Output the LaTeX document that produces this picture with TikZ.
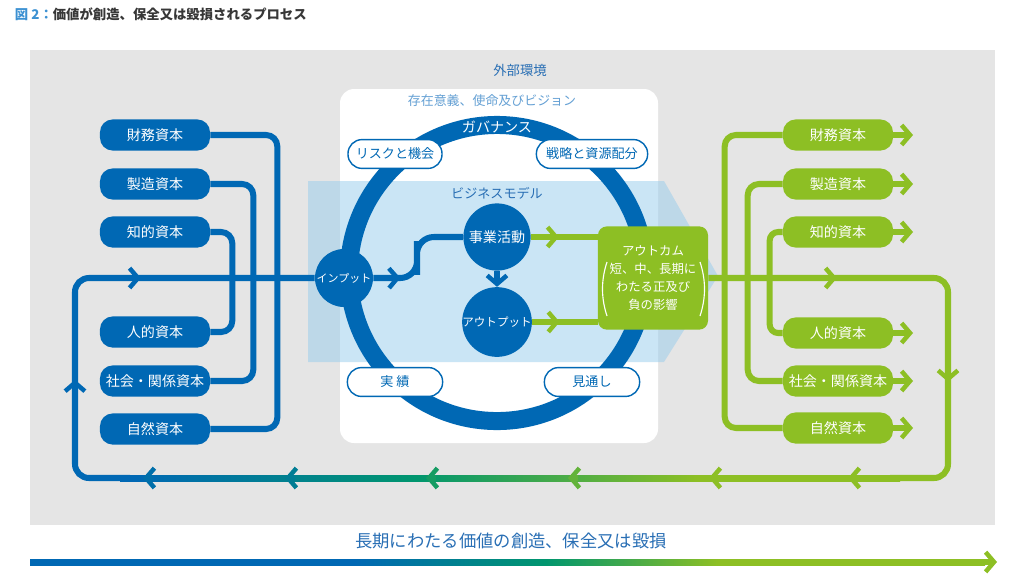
\documentclass[tikz,border=0pt]{standalone}
\usepackage{fontspec}
\setmainfont{Noto Sans CJK JP}
\usetikzlibrary{arrows.meta,decorations.markings,positioning}

\definecolor{capblue}{RGB}{0,104,180}
\definecolor{capgreen}{RGB}{141,191,36}
\definecolor{flowteal}{RGB}{0,150,110}
\definecolor{envgray}{RGB}{229,229,229}
\definecolor{bandblue}{RGB}{150,204,236}
\definecolor{labelblue}{RGB}{40,110,180}
\definecolor{paleblue}{RGB}{100,160,212}
\definecolor{titleblue}{RGB}{60,145,210}
\definecolor{titlegray}{RGB}{55,55,55}

\pgfdeclarehorizontalshading{loopflow}{100bp}{color(0bp)=(capblue); color(26bp)=(capblue); color(44bp)=(flowteal); color(62bp)=(capgreen); color(100bp)=(capgreen)}
\pgfdeclarehorizontalshading{timeflow}{100bp}{color(0bp)=(capblue); color(42bp)=(capblue); color(52bp)=(flowteal); color(61bp)=(capgreen); color(100bp)=(capgreen)}

\tikzset{chev/.tip={Straight Barb[length=6pt,width=14pt,line width=3.2pt]}}

\begin{document}
\begin{tikzpicture}[x=0.025cm, y=-0.025cm,
    bline/.style={capblue, line width=4.3pt},
    gline/.style={capgreen, line width=4.3pt},
    chevat/.style={postaction={decorate, decoration={markings, mark=at position #1 with {\arrow{chev}}}}},
    capin/.style={fill=capblue, text=white, rounded corners=0.32cm, minimum width=2.75cm, minimum height=0.78cm, inner sep=0pt, font=\fontsize{10}{12}\selectfont},
    capout/.style={capin, fill=capgreen},
    ringpill/.style={draw=capblue, line width=1pt, fill=white, text=capblue, rounded corners=0.35cm, minimum height=0.72cm, inner sep=0pt, font=\fontsize{9.3}{11}\selectfont},
    hub/.style={circle, fill=capblue, text=white, inner sep=0pt, minimum size=1.68cm}]
  \useasboundingbox (0,0) rectangle (1024,586);

  % Title
  \node[anchor=west, font=\fontsize{9.5}{11}\selectfont\bfseries] (title) at (10,14)
    {\textcolor{titleblue}{図 2：}\textcolor{titlegray}{価値が創造、保全又は毀損されるプロセス}};

  % External environment
  \fill[envgray] (30,50) rectangle (995,525);
  \node[text=labelblue, font=\fontsize{9.5}{11}\selectfont] (env_label) at (520,70) {外部環境};

  % Purpose, mission and vision
  \fill[white, rounded corners=0.35cm] (340,89) rectangle (658,443);
  \node[text=paleblue, font=\fontsize{9.2}{11}\selectfont] (purpose_label) at (492,101) {存在意義、使命及びビジョン};

  % Business model band
  \fill[bandblue, opacity=0.5] (308,181) -- (664,181) -- (718,276) -- (664,362) -- (308,362) -- cycle;
  \node[text=labelblue, font=\fontsize{9.3}{11}\selectfont] (model_label) at (497,193) {ビジネスモデル};

  % Governance ring
  \draw[capblue, line width=12.8pt] (497,273) circle[radius=3.7cm];
  \node[text=white, font=\fontsize{10}{12}\selectfont] (gov_label) at (497,127) {ガバナンス};

  \node[ringpill, minimum width=2.35cm] (risk) at (395,154) {リスクと機会};
  \node[ringpill, minimum width=2.78cm] (strategy) at (592,154) {戦略と資源配分};
  \node[ringpill, minimum width=2.38cm] (record) at (395,382) {実 績};
  \node[ringpill, minimum width=2.38cm] (outlook) at (592,382) {見通し};

  % Hubs
  \node[hub, minimum size=1.45cm, font=\fontsize{7.8}{9}\selectfont] (input) at (344,278) {インプット};
  \node[hub, font=\fontsize{10}{12}\selectfont] (jigyo) at (497,237) {事業活動};
  \node[hub, font=\fontsize{8.2}{10}\selectfont] (output) at (497,322) {アウトプット};

  % Outcome
  \node[fill=capgreen, text=white, rounded corners=0.22cm, minimum width=2.75cm, minimum height=2.58cm,
        align=center, font=\fontsize{8.8}{12.8}\selectfont] (outcome) at (653,278)
    {アウトカム\\短、中、長期に\\わたる正及び\\負の影響};
  \draw[white, line width=0.8pt] (607,262) .. controls (601,280) and (601,298) .. (607,316);
  \draw[white, line width=0.8pt] (700,262) .. controls (706,280) and (706,298) .. (700,316);

  % Capitals in
  \node[capin] (fin_in) at (155,135) {財務資本};
  \node[capin] (manu_in) at (155,184) {製造資本};
  \node[capin] (intel_in) at (155,232) {知的資本};
  \node[capin] (human_in) at (155,332) {人的資本};
  \node[capin] (social_in) at (155,381) {社会・関係資本};
  \node[capin] (nat_in) at (155,429) {自然資本};

  \draw[bline, rounded corners=8pt] (fin_in.east) -- ++(67,0) |- (nat_in.east);
  \draw[bline, rounded corners=8pt] (manu_in.east) -- ++(43,0) |- (social_in.east);
  \draw[bline, rounded corners=8pt] (intel_in.east) -- ++(22,0) |- (human_in.east);

  % Capitals out
  \node[capout] (fin_out) at (838,135) {財務資本};
  \node[capout] (manu_out) at (838,184) {製造資本};
  \node[capout] (intel_out) at (838,232) {知的資本};
  \node[capout] (human_out) at (838,333) {人的資本};
  \node[capout] (social_out) at (838,381) {社会・関係資本};
  \node[capout] (nat_out) at (838,428) {自然資本};

  \draw[gline, rounded corners=8pt] (fin_out.west) -- ++(-58,0) |- (nat_out.west);
  \draw[gline, rounded corners=8pt] (manu_out.west) -- ++(-35,0) |- (social_out.west);
  \draw[gline, rounded corners=6pt] (intel_out.west) -- ++(-13,0) |- (human_out.west);

  \coordinate (out_tips) at (913,0);
  \foreach \capname in {fin,manu,intel,human,social,nat}
    \draw[gline, -{chev}] (\capname_out.east) -- (\capname_out.east -| out_tips);

  % Flow through the business model
  \draw[bline, rounded corners=12pt, chevat=0.16] (input.east) -| (417,258) |- (jigyo.west);
  \draw[bline, -{chev}] (jigyo) -- (output);
  \draw[gline, chevat=0.42] (jigyo.east) -- (jigyo.east -| outcome.west);
  \draw[gline, chevat=0.42] (output.east) -- (output.east -| outcome.west);

  % Value loop
  \coordinate (loop_r) at (948,478);
  \coordinate (loop_br) at (890,478);
  \coordinate (loop_bl) at (130,478);
  \coordinate (loop_l) at (75,278);
  \draw[gline, rounded corners=10pt, chevat=0.265, chevat=0.695] (outcome.east) -| (loop_r) -- (loop_br);
  \draw[bline, rounded corners=10pt, chevat=0.305, chevat=0.64] (loop_bl) -| (loop_l) -- (input.west);
  \shade[shading=loopflow] (120,475) rectangle (900,481);
  \foreach \x/\tone in {143/capblue!85!flowteal, 285/capblue!55!flowteal, 426/flowteal!85!capgreen,
                        568/capgreen!70!flowteal, 709/capgreen, 848/capgreen}
    \draw[\tone, line width=4.3pt, -{chev}] (\x+10,478) -- (\x,478);

  % Time line
  \node[text=labelblue, font=\fontsize{12.3}{14}\selectfont] (time_label) at (511,541) {長期にわたる価値の創造、保全又は毀損};
  \coordinate (time_end) at (997,562);
  \shade[shading=timeflow] (30,559) rectangle (985,565);
  \draw[capgreen, line width=4.3pt, -{chev}] ([xshift=-0.4cm]time_end) -- (time_end);
\end{tikzpicture}
\end{document}
